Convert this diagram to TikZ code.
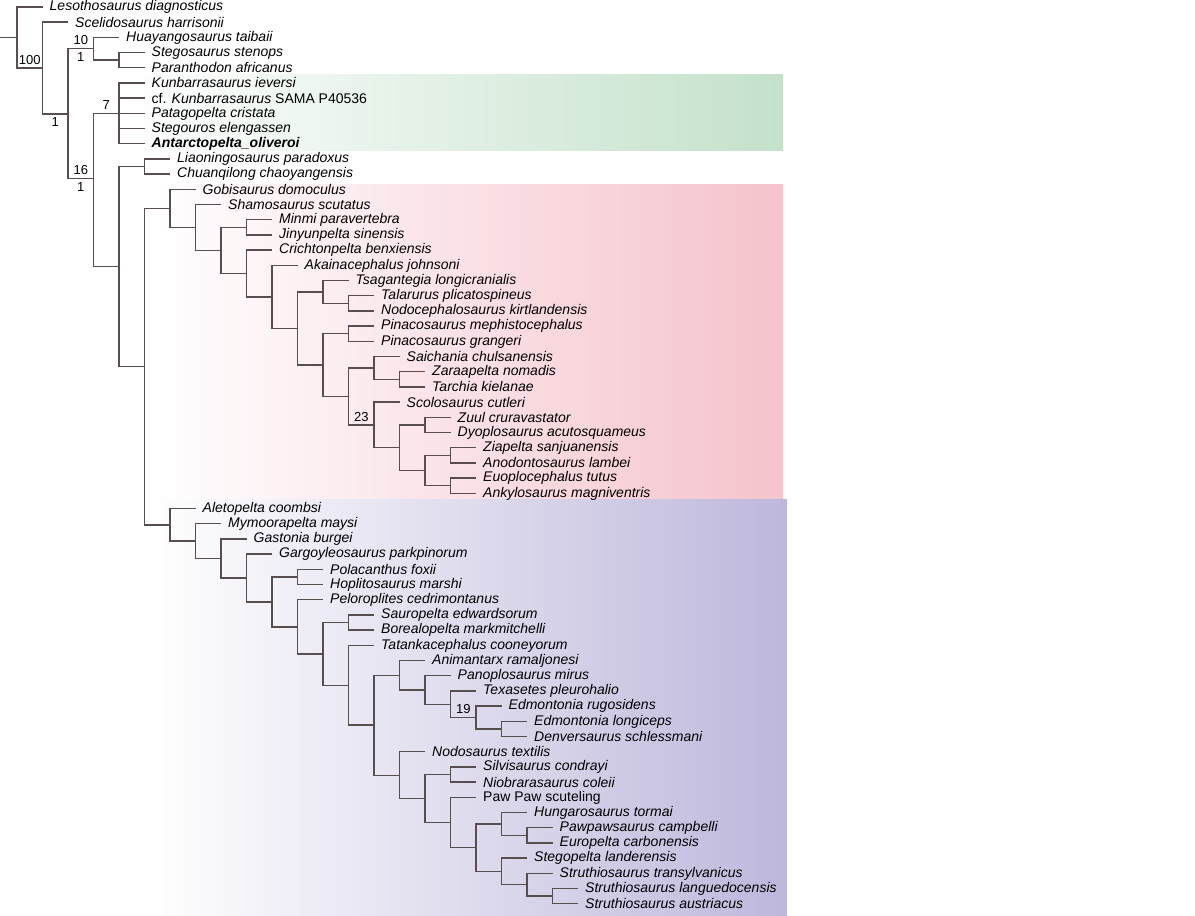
\documentclass[tikz,border=0pt]{standalone}
\usepackage{fontspec}
\setmainfont{Liberation Sans}
\usepackage{tikz}
\tikzset{
taxon/.style={
  anchor=west,
  inner xsep=7pt,
  inner ysep=0pt,
  font=\fontsize{14}{14}\selectfont\itshape,
  }
}
\tikzset{
branch/.style={
  line width=1.4pt,
  draw={rgb,255:red,88;green,78;blue,78},
  }
}
\tikzset{
support/.style={
  inner sep=3pt,
  font=\fontsize{13}{13}\selectfont,
  }
}

\begin{document}
\begin{tikzpicture}[x=25.5pt,y=-15.2pt]
    \useasboundingbox (-0.667,-0.46) rectangle (46.196,59.74);
    % clade boxes
    \shade [left color=white, right color={rgb,255:red,196;green,225;blue,203}] (3.96,4.47) rectangle (30.04,9.41);
    \shade [left color=white, right color={rgb,255:red,245;green,195;blue,204}] (5.2,11.71) rectangle (30.04,32.43);
    \shade [left color=white, right color={rgb,255:red,189;green,184;blue,220}] (5.2,32.43) rectangle (30.2,59.74);

    % outgroups and stegosaurs
    \node[taxon] (leso) at (1,0) {Lesothosaurus diagnosticus};
    \node[taxon] (sceli) at (2,1) {Scelidosaurus harrisonii};
    \node[taxon] (huay) at (4,2) {Huayangosaurus taibaii};
    \node[taxon] (stego) at (5,3) {Stegosaurus stenops};
    \node[taxon] (paran) at (5,4) {Paranthodon africanus};

    % parankylosaurs
    \node[taxon] (kunb) at (5,5) {Kunbarrasaurus ieversi};
    \node[taxon] (cfkunb) at (5,6) {\upshape cf. \textit{Kunbarrasaurus} SAMA P40536};
    \node[taxon] (patag) at (5,7) {Patagopelta cristata};
    \node[taxon] (stegou) at (5,8) {Stegouros elengassen};
    \node[taxon] (antarc) at (5,9) {\bfseries Antarctopelta\_oliveroi};
    \node[taxon] (liao) at (6,10) {Liaoningosaurus paradoxus};
    \node[taxon] (chuan) at (6,11) {Chuanqilong chaoyangensis};

    % ankylosaurids
    \node[taxon] (gobi) at (7,12) {Gobisaurus domoculus};
    \node[taxon] (shamo) at (8,13) {Shamosaurus scutatus};
    \node[taxon] (minmi) at (10,14) {Minmi paravertebra};
    \node[taxon] (jinyun) at (10,15) {Jinyunpelta sinensis};
    \node[taxon] (crich) at (10,16) {Crichtonpelta benxiensis};
    \node[taxon] (akain) at (11,17) {Akainacephalus johnsoni};
    \node[taxon] (tsag) at (13,18) {Tsagantegia longicranialis};
    \node[taxon] (talar) at (14,19) {Talarurus plicatospineus};
    \node[taxon] (nodoc) at (14,20) {Nodocephalosaurus kirtlandensis};
    \node[taxon] (pinme) at (14,21) {Pinacosaurus mephistocephalus};
    \node[taxon] (pingr) at (14,22) {Pinacosaurus grangeri};
    \node[taxon] (saich) at (15,23) {Saichania chulsanensis};
    \node[taxon] (zaraa) at (16,24) {Zaraapelta nomadis};
    \node[taxon] (tarch) at (16,25) {Tarchia kielanae};
    \node[taxon] (scolo) at (15,26) {Scolosaurus cutleri};
    \node[taxon] (zuul) at (17,27) {Zuul cruravastator};
    \node[taxon] (dyopl) at (17,28) {Dyoplosaurus acutosquameus};
    \node[taxon] (ziap) at (18,29) {Ziapelta sanjuanensis};
    \node[taxon] (anodo) at (18,30) {Anodontosaurus lambei};
    \node[taxon] (euopl) at (18,31) {Euoplocephalus tutus};
    \node[taxon] (ankyl) at (18,32) {Ankylosaurus magniventris};

    % nodosaurids
    \node[taxon] (aleto) at (7,33) {Aletopelta coombsi};
    \node[taxon] (mymoo) at (8,34) {Mymoorapelta maysi};
    \node[taxon] (gasto) at (9,35) {Gastonia burgei};
    \node[taxon] (gargo) at (10,36) {Gargoyleosaurus parkpinorum};
    \node[taxon] (polac) at (12,37) {Polacanthus foxii};
    \node[taxon] (hopli) at (12,38) {Hoplitosaurus marshi};
    \node[taxon] (pelor) at (12,39) {Peloroplites cedrimontanus};
    \node[taxon] (sauro) at (14,40) {Sauropelta edwardsorum};
    \node[taxon] (borea) at (14,41) {Borealopelta markmitchelli};
    \node[taxon] (tatan) at (14,42) {Tatankacephalus cooneyorum};
    \node[taxon] (animan) at (16,43) {Animantarx ramaljonesi};
    \node[taxon] (panop) at (17,44) {Panoplosaurus mirus};
    \node[taxon] (texas) at (18,45) {Texasetes pleurohalio};
    \node[taxon] (edmru) at (19,46) {Edmontonia rugosidens};
    \node[taxon] (edmlo) at (20,47) {Edmontonia longiceps};
    \node[taxon] (denve) at (20,48) {Denversaurus schlessmani};
    \node[taxon] (nodos) at (16,49) {Nodosaurus textilis};
    \node[taxon] (silvi) at (18,50) {Silvisaurus condrayi};
    \node[taxon] (niobr) at (18,51) {Niobrarasaurus coleii};
    \node[taxon] (pawpaw) at (18,52) {\upshape Paw Paw scuteling};
    \node[taxon] (hunga) at (20,53) {Hungarosaurus tormai};
    \node[taxon] (pawsa) at (21,54) {Pawpawsaurus campbelli};
    \node[taxon] (europ) at (21,55) {Europelta carbonensis};
    \node[taxon] (stegp) at (20,56) {Stegopelta landerensis};
    \node[taxon] (strtr) at (21,57) {Struthiosaurus transylvanicus};
    \node[taxon] (strla) at (22,58) {Struthiosaurus languedocensis};
    \node[taxon] (strau) at (22,59) {Struthiosaurus austriacus};

    % inner nodes
    \coordinate (stem) at (-0.667,2.0);
    \coordinate (root) at (0,2.0);
    \coordinate (nA) at (1,4.01);
    \coordinate (nB) at (2,7.03);
    \coordinate (nSteg) at (3,2.75);
    \coordinate (nSP) at (4,3.5);
    \coordinate (nC) at (3,11.3);
    \coordinate (nP7) at (4,7);
    \coordinate (nD) at (4,17.08);
    \coordinate (nLC) at (5,10.5);
    \coordinate (nE) at (5,23.66);
    \coordinate (a6) at (6,13.255);
    \coordinate (a7) at (7,14.51);
    \coordinate (a8) at (8,16.02);
    \coordinate (aMJ) at (9,14.5);
    \coordinate (a9) at (9,17.54);
    \coordinate (a10) at (10,19.08);
    \coordinate (a11) at (11,21.16);
    \coordinate (a12t) at (12,18.75);
    \coordinate (aTN) at (13,19.5);
    \coordinate (a12p) at (12,23.56);
    \coordinate (aPP) at (13,21.5);
    \coordinate (a13) at (13,25.63);
    \coordinate (a14s) at (14,23.75);
    \coordinate (aZT) at (15,24.5);
    \coordinate (a14c) at (14,27.5);
    \coordinate (a15) at (15,29);
    \coordinate (aZD) at (16,27.5);
    \coordinate (a16) at (16,30.5);
    \coordinate (aZA) at (17,29.5);
    \coordinate (aEA) at (17,31.5);
    \coordinate (m6) at (6,34.07);
    \coordinate (m7) at (7,35.14);
    \coordinate (m8) at (8,36.29);
    \coordinate (m9) at (9,37.57);
    \coordinate (m10) at (10,39.14);
    \coordinate (mPH) at (11,37.5);
    \coordinate (m11) at (11,40.78);
    \coordinate (m12) at (12,42.56);
    \coordinate (mSB) at (13,40.5);
    \coordinate (m13) at (13,44.63);
    \coordinate (m14) at (14,47.25);
    \coordinate (m15a) at (15,43.97);
    \coordinate (m16a) at (16,44.94);
    \coordinate (m17a) at (17,45.88);
    \coordinate (m18) at (18,46.75);
    \coordinate (mED) at (19,47.5);
    \coordinate (m15b) at (15,50.54);
    \coordinate (m16b) at (16,52.08);
    \coordinate (mSN) at (17,50.5);
    \coordinate (m17b) at (17,53.66);
    \coordinate (m18b) at (18,55.31);
    \coordinate (m19a) at (19,53.75);
    \coordinate (mPE) at (20,54.5);
    \coordinate (m19b) at (19,56.88);
    \coordinate (m20) at (20,57.75);
    \coordinate (mSS) at (21,58.5);

    % backbone edges
    \draw[branch] (stem) -- (root);
    \draw[branch] (root) |- (leso.west);
    \draw[branch] (root) |- node[support, pos=0.75, above] {100} (nA);
    \draw[branch] (nA) |- (sceli.west);
    \draw[branch] (nA) |- node[support, pos=0.75, below] {1} (nB);
    \draw[branch] (nB) |- node[support, pos=0.75, above] {10} node[support, pos=0.75, below] {1} (nSteg);
    \draw[branch] (nB) |- node[support, pos=0.75, above] {16} node[support, pos=0.75, below] {1} (nC);
    \draw[branch] (nSteg) |- (huay.west);
    \draw[branch] (nSteg) |- (nSP);
    \draw[branch] (nSP) |- (stego.west);
    \draw[branch] (nSP) |- (paran.west);
    \draw[branch] (nC) |- node[support, pos=0.75, above] {7} (nP7);
    \draw[branch] (nC) |- (nD);
    \draw[branch] (nP7) |- (kunb.west);
    \draw[branch] (nP7) |- (cfkunb.west);
    \draw[branch] (nP7) |- (patag.west);
    \draw[branch] (nP7) |- (stegou.west);
    \draw[branch] (nP7) |- (antarc.west);
    \draw[branch] (nD) |- (nLC);
    \draw[branch] (nD) |- (nE);
    \draw[branch] (nLC) |- (liao.west);
    \draw[branch] (nLC) |- (chuan.west);
    \draw[branch] (nE) |- (a6);
    \draw[branch] (nE) |- (m6);

    % ankylosaurid edges
    \draw[branch] (a6) |- (gobi.west);
    \draw[branch] (a6) |- (a7);
    \draw[branch] (a7) |- (shamo.west);
    \draw[branch] (a7) |- (a8);
    \draw[branch] (a8) |- (aMJ);
    \draw[branch] (a8) |- (a9);
    \draw[branch] (aMJ) |- (minmi.west);
    \draw[branch] (aMJ) |- (jinyun.west);
    \draw[branch] (a9) |- (crich.west);
    \draw[branch] (a9) |- (a10);
    \draw[branch] (a10) |- (akain.west);
    \draw[branch] (a10) |- (a11);
    \draw[branch] (a11) |- (a12t);
    \draw[branch] (a11) |- (a12p);
    \draw[branch] (a12t) |- (tsag.west);
    \draw[branch] (a12t) |- (aTN);
    \draw[branch] (aTN) |- (talar.west);
    \draw[branch] (aTN) |- (nodoc.west);
    \draw[branch] (a12p) |- (aPP);
    \draw[branch] (a12p) |- (a13);
    \draw[branch] (aPP) |- (pinme.west);
    \draw[branch] (aPP) |- (pingr.west);
    \draw[branch] (a13) |- (a14s);
    \draw[branch] (a13) |- node[support, pos=0.75, above] {23} (a14c);
    \draw[branch] (a14s) |- (saich.west);
    \draw[branch] (a14s) |- (aZT);
    \draw[branch] (aZT) |- (zaraa.west);
    \draw[branch] (aZT) |- (tarch.west);
    \draw[branch] (a14c) |- (scolo.west);
    \draw[branch] (a14c) |- (a15);
    \draw[branch] (a15) |- (aZD);
    \draw[branch] (a15) |- (a16);
    \draw[branch] (aZD) |- (zuul.west);
    \draw[branch] (aZD) |- (dyopl.west);
    \draw[branch] (a16) |- (aZA);
    \draw[branch] (a16) |- (aEA);
    \draw[branch] (aZA) |- (ziap.west);
    \draw[branch] (aZA) |- (anodo.west);
    \draw[branch] (aEA) |- (euopl.west);
    \draw[branch] (aEA) |- (ankyl.west);

    % nodosaurid edges
    \draw[branch] (m6) |- (aleto.west);
    \draw[branch] (m6) |- (m7);
    \draw[branch] (m7) |- (mymoo.west);
    \draw[branch] (m7) |- (m8);
    \draw[branch] (m8) |- (gasto.west);
    \draw[branch] (m8) |- (m9);
    \draw[branch] (m9) |- (gargo.west);
    \draw[branch] (m9) |- (m10);
    \draw[branch] (m10) |- (mPH);
    \draw[branch] (m10) |- (m11);
    \draw[branch] (mPH) |- (polac.west);
    \draw[branch] (mPH) |- (hopli.west);
    \draw[branch] (m11) |- (pelor.west);
    \draw[branch] (m11) |- (m12);
    \draw[branch] (m12) |- (mSB);
    \draw[branch] (m12) |- (m13);
    \draw[branch] (mSB) |- (sauro.west);
    \draw[branch] (mSB) |- (borea.west);
    \draw[branch] (m13) |- (tatan.west);
    \draw[branch] (m13) |- (m14);
    \draw[branch] (m14) |- (m15a);
    \draw[branch] (m14) |- (m15b);
    \draw[branch] (m15a) |- (animan.west);
    \draw[branch] (m15a) |- (m16a);
    \draw[branch] (m16a) |- (panop.west);
    \draw[branch] (m16a) |- (m17a);
    \draw[branch] (m17a) |- (texas.west);
    \draw[branch] (m17a) |- node[support, pos=0.75, above] {19} (m18);
    \draw[branch] (m18) |- (edmru.west);
    \draw[branch] (m18) |- (mED);
    \draw[branch] (mED) |- (edmlo.west);
    \draw[branch] (mED) |- (denve.west);
    \draw[branch] (m15b) |- (nodos.west);
    \draw[branch] (m15b) |- (m16b);
    \draw[branch] (m16b) |- (mSN);
    \draw[branch] (m16b) |- (m17b);
    \draw[branch] (mSN) |- (silvi.west);
    \draw[branch] (mSN) |- (niobr.west);
    \draw[branch] (m17b) |- (pawpaw.west);
    \draw[branch] (m17b) |- (m18b);
    \draw[branch] (m18b) |- (m19a);
    \draw[branch] (m18b) |- (m19b);
    \draw[branch] (m19a) |- (hunga.west);
    \draw[branch] (m19a) |- (mPE);
    \draw[branch] (mPE) |- (pawsa.west);
    \draw[branch] (mPE) |- (europ.west);
    \draw[branch] (m19b) |- (stegp.west);
    \draw[branch] (m19b) |- (m20);
    \draw[branch] (m20) |- (strtr.west);
    \draw[branch] (m20) |- (mSS);
    \draw[branch] (mSS) |- (strla.west);
    \draw[branch] (mSS) |- (strau.west);
\end{tikzpicture}
\end{document}
